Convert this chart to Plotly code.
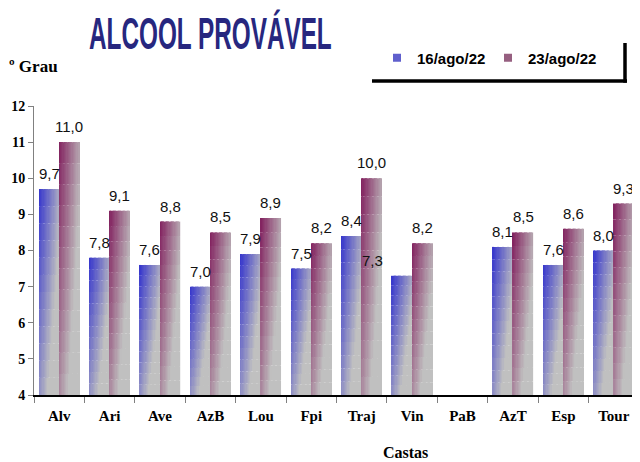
import plotly.graph_objects as go

# ---- data ----
categories = ["Alv", "Ari", "Ave", "AzB", "Lou", "Fpi", "Traj", "Vin", "PaB", "AzT", "Esp", "Tour"]
series_names = ["16/ago/22", "23/ago/22"]
values_16ago = [9.7, 7.8, 7.6, 7.0, 7.9, 7.5, 8.4, 7.3, None, 8.1, 7.6, 8.0]
values_23ago = [11.0, 9.1, 8.8, 8.5, 8.9, 8.2, 10.0, 8.2, None, 8.5, 8.6, 9.3]
y_ticks = [4, 5, 6, 7, 8, 9, 10, 11, 12]

# ---- style ----
Y_MIN, Y_MAX = 4, 12
BAR_W = 0.4          # width of one bar in category units
K, M = 16, 12        # gradient slices (horizontal x vertical)
start_colors = [(50, 50, 205), (128, 28, 92)]
legend_colors = ["rgb(95,95,205)", "rgb(150,95,128)"]
end_color = (192, 192, 192)
serif = "Liberation Serif, Times New Roman, serif"
sans = "Liberation Sans, Arial, sans-serif"

# page geometry (the page body has an 8px margin)
PAGE_OFF = 8
PX0, PX1, PY0, PY1 = 34, 639, 106, 395   # plot area in page pixels


def px(x):
    return (x - PX0) / (PX1 - PX0)


def py(y):
    return (PY1 - y) / (PY1 - PY0)


def mix(c1, c2, t):
    t = max(0.0, min(1.0, t))
    return "rgb(%d,%d,%d)" % tuple(round(a + (b - a) * t) for a, b in zip(c1, c2))


x_pos = list(range(len(categories)))
fig = go.Figure()

for s, (name, vals) in enumerate(zip(series_names, [values_16ago, values_23ago])):
    base_offset = -BAR_W if s == 0 else 0.0
    for k in range(K):
        u = (k + 0.5) / K
        for j in range(M):
            w = 1 - (j + 0.5) / M  # 0 at top, 1 at bottom
            col = mix(start_colors[s], end_color, 0.8 * u + 0.65 * w)
            bases = [None if v is None else Y_MIN + (v - Y_MIN) * j / M for v in vals]
            heights = [None if v is None else (v - Y_MIN) / M for v in vals]
            fig.add_trace(go.Bar(
                x=x_pos, y=heights, base=bases,
                width=BAR_W / K, offset=base_offset + k * BAR_W / K,
                marker=dict(color=col, line=dict(width=0)),
                name=name, legendgroup=name, showlegend=False,
                hoverinfo="skip",
            ))

# legend entries (small square keys)
for name, col in zip(series_names, legend_colors):
    fig.add_trace(go.Scatter(
        x=[None], y=[None], mode="markers", name=name, legendgroup=name,
        marker=dict(symbol="square", size=8, color=col),
        showlegend=True, hoverinfo="skip",
    ))

# value labels
label_xshift = {(0, 7): -30}
annotations = []
for s, vals in enumerate([values_16ago, values_23ago]):
    for i, v in enumerate(vals):
        if v is None:
            continue
        annotations.append(dict(
            x=i + (-BAR_W / 2 if s == 0 else BAR_W / 2), y=v,
            xref="x", yref="y", text=("%.1f" % v).replace(".", ","),
            showarrow=False, yanchor="bottom", yshift=5,
            xshift=label_xshift.get((s, i), 0),
            font=dict(family=sans, size=15, color="#111111"),
        ))

TITLE = "ALCOOL PROVÁVEL"
annotations += [
    dict(text=TITLE, xref="paper", yref="paper",
         x=px(87), y=py(34), xanchor="left", yanchor="middle",
         showarrow=False,
         font=dict(family=sans, size=32, color="#27277f", weight="bold")),
    dict(text="º Grau", xref="paper", yref="paper",
         x=px(7), y=py(67), xanchor="left", yanchor="middle",
         showarrow=False,
         font=dict(family=serif, size=17, color="black", weight="bold")),
    dict(text="Castas", xref="paper", yref="paper",
         x=px(405), y=py(452), xanchor="center", yanchor="middle",
         showarrow=False,
         font=dict(family=serif, size=16, color="black", weight="bold")),
]

# legend "shadow" frame (right + bottom lines)
shapes = [
    dict(type="line", xref="paper", yref="paper",
         x0=px(372), x1=px(627), y0=py(81), y1=py(81),
         line=dict(color="black", width=3.5)),
    dict(type="line", xref="paper", yref="paper",
         x0=px(625), x1=px(625), y0=py(43), y1=py(82.7),
         line=dict(color="black", width=3.5)),
]

fig.update_layout(
    width=640 - PAGE_OFF, height=462 - PAGE_OFF,
    margin=dict(l=PX0 - PAGE_OFF, r=640 - PX1, t=PY0 - PAGE_OFF, b=462 - PY1,
                autoexpand=False),
    paper_bgcolor="white", plot_bgcolor="white",
    barmode="overlay",
    showlegend=True,
    legend=dict(orientation="h", x=px(377), y=py(58),
                xanchor="left", yanchor="middle",
                entrywidth=66, entrywidthmode="pixels",
                font=dict(family=sans, size=15, color="black", weight="bold"),
                bgcolor="rgba(0,0,0,0)", borderwidth=0, itemclick=False),
    annotations=annotations,
    shapes=shapes,
    xaxis=dict(
        range=[-0.5, len(categories) - 0.5],
        tickmode="array", tickvals=x_pos, ticktext=categories,
        ticks="outside", ticklen=6, tickcolor="rgba(0,0,0,0)",
        tickfont=dict(family=serif, size=15, color="black", weight="bold"),
        showline=True, linecolor="black", linewidth=2,
        showgrid=False, zeroline=False, fixedrange=True,
        minor=dict(tickmode="array", tickvals=[i - 0.5 for i in range(len(categories) + 1)],
                   ticks="outside", ticklen=6, tickcolor="#808080", showgrid=False),
    ),
    yaxis=dict(
        range=[Y_MIN, Y_MAX], tickmode="array", tickvals=y_ticks,
        ticks="outside", ticklen=5, tickcolor="#808080",
        tickfont=dict(family=serif, size=14, color="black", weight="bold"),
        showline=True, linecolor="#808080", linewidth=1,
        showgrid=False, zeroline=False, fixedrange=True,
    ),
)

# condense the title horizontally / stretch vertically (narrow display face look)
post = """
document.querySelectorAll('text.annotation-text').forEach(function(t){
  if (t.textContent === '%s') {
    var b = t.getBBox();
    var cx = b.x, cy = b.y + b.height / 2;
    t.setAttribute('transform', 'translate(' + cx + ',' + cy + ') scale(0.76,1.4) translate(' + (-cx) + ',' + (-cy) + ')');
  }
});
""" % TITLE

fig.write_html("out.html", post_script=post)
